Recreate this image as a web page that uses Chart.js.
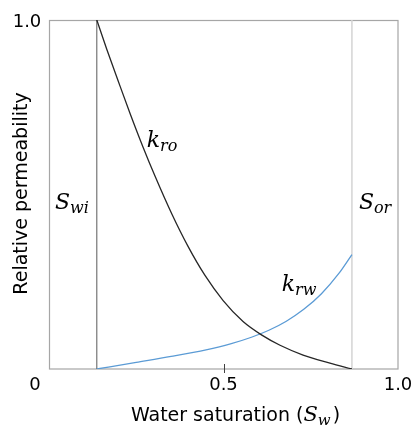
<!DOCTYPE html>
<html>
<head>
<meta charset="utf-8">
<script src="https://cdn.jsdelivr.net/npm/chart.js@4/dist/chart.umd.min.js"></script>
<style>
  html, body { margin: 0; padding: 0; background: #ffffff; }
  #c { display: block; }
</style>
</head>
<body>
<canvas id="c" width="417" height="430"></canvas>
<script>
// ---- Data ----
const SWI = 0.137;   // irreducible water saturation
const SOR = 0.868;   // 1 - residual oil saturation

const swKro = [0.137, 0.166, 0.198, 0.232, 0.269, 0.304, 0.352, 0.398, 0.447, 0.499, 0.556, 0.610, 0.662, 0.728, 0.805, 0.868];
const kro   = [1.000, 0.915, 0.826, 0.733, 0.637, 0.552, 0.444, 0.352, 0.268, 0.196, 0.136, 0.097, 0.068, 0.040, 0.017, 0.000];

const swKrw = [0.137, 0.250, 0.350, 0.450, 0.520, 0.580, 0.630, 0.680, 0.730, 0.780, 0.830, 0.868];
const krw   = [0.000, 0.019, 0.036, 0.055, 0.072, 0.091, 0.111, 0.137, 0.171, 0.215, 0.273, 0.328];

const xTickValues = [0.5, 1.0];
const xTickLabels = ['0.5', '1.0'];
const yTickValues = [1.0];
const yTickLabels = ['1.0'];
const originLabel = '0';

const xTitle = 'Water saturation (';
const xTitleMath = ['S', 'w'];
const yTitle = 'Relative permeability';

// curve / region annotations: [base, subscript, x, y] (data units)
const annotations = [
  ['k', 'ro', 0.280, 0.636],
  ['k', 'rw', 0.667, 0.223],
  ['S', 'wi', 0.017, 0.459],
  ['S', 'or', 0.888, 0.459]
];

const toPts = (xs, ys) => xs.map((x, i) => ({ x: x, y: ys[i] }));

const SANS = '"DejaVu Sans", "Open Sans", sans-serif';
const SERIF = '"DejaVu Serif", "Liberation Serif", serif';

function drawMath(ctx, base, sub, x, y, size, subSize, subDrop) {
  ctx.textAlign = 'left';
  ctx.textBaseline = 'alphabetic';
  ctx.font = 'italic ' + size + 'px ' + SERIF;
  ctx.fillText(base, x, y);
  const w = ctx.measureText(base).width;
  ctx.font = 'italic ' + subSize + 'px ' + SERIF;
  ctx.fillText(sub, x + w, y + subDrop);
  return w + ctx.measureText(sub).width;
}

const framePlugin = {
  id: 'frame',
  beforeDatasetsDraw(chart) {
    const ctx = chart.ctx, a = chart.chartArea;
    ctx.save();
    ctx.strokeStyle = '#a6a6a6';
    ctx.lineWidth = 1.2;
    ctx.strokeRect(a.left + 0.5, a.top + 0.5, a.right - a.left - 0.5, a.bottom - a.top - 0.5);
    ctx.restore();
  },
  afterDraw(chart) {
    const ctx = chart.ctx, a = chart.chartArea;
    const xs = chart.scales.x, ys = chart.scales.y;
    ctx.save();
    ctx.fillStyle = '#000000';
    ctx.strokeStyle = '#404040';
    ctx.lineWidth = 1;

    // x tick marks (inner ones)
    xTickValues.forEach(v => {
      if (v > 0 && v < 1) {
        const px = Math.round(xs.getPixelForValue(v)) + 0.5;
        ctx.beginPath();
        ctx.moveTo(px, a.bottom - 5);
        ctx.lineTo(px, a.bottom + 4);
        ctx.stroke();
      }
    });

    // tick labels
    ctx.font = '18px ' + SANS;
    ctx.textAlign = 'center';
    ctx.textBaseline = 'alphabetic';
    xTickValues.forEach((v, i) => {
      ctx.fillText(xTickLabels[i], xs.getPixelForValue(v), a.bottom + 21);
    });
    yTickValues.forEach((v, i) => {
      ctx.fillText(yTickLabels[i], a.left - 22, ys.getPixelForValue(v) + 7);
    });
    ctx.fillText(originLabel, a.left - 14, a.bottom + 21);

    // y title
    ctx.save();
    ctx.translate(22, (a.top + a.bottom) / 2 - 1);
    ctx.rotate(-Math.PI / 2);
    ctx.font = '19px ' + SANS;
    ctx.textAlign = 'center';
    ctx.textBaseline = 'middle';
    ctx.fillText(yTitle, 0, 0);
    ctx.restore();

    // x title: sans text + italic math + ")"
    const baseY = 421;
    ctx.font = '19px ' + SANS;
    const w1 = ctx.measureText(xTitle).width;
    ctx.font = 'italic 21px ' + SERIF;
    const wS = ctx.measureText(xTitleMath[0]).width;
    ctx.font = 'italic 15px ' + SERIF;
    const wSub = ctx.measureText(xTitleMath[1]).width;
    ctx.font = '19px ' + SANS;
    const wClose = ctx.measureText(')').width;
    const total = w1 + wS + wSub + wClose + 2;
    let tx = (a.left + a.right) / 2 + 12 - total / 2;
    ctx.textAlign = 'left';
    ctx.textBaseline = 'alphabetic';
    ctx.fillText(xTitle, tx, baseY);
    tx += w1;
    const mw = drawMath(ctx, xTitleMath[0], xTitleMath[1], tx, baseY, 21, 15, 4);
    tx += mw + 2;
    ctx.font = '19px ' + SANS;
    ctx.fillText(')', tx, baseY);

    // annotations
    annotations.forEach(([b, s, vx, vy]) => {
      drawMath(ctx, b, s, xs.getPixelForValue(vx), ys.getPixelForValue(vy), 22, 16, 4);
    });
    ctx.restore();
  }
};

new Chart(document.getElementById('c'), {
  type: 'scatter',
  data: {
    datasets: [
      {
        label: 'kro',
        data: toPts(swKro, kro),
        showLine: true,
        borderColor: '#262626',
        borderWidth: 1.3,
        pointRadius: 0,
        cubicInterpolationMode: 'monotone'
      },
      {
        label: 'krw',
        data: toPts(swKrw, krw),
        showLine: true,
        borderColor: '#5b9bd5',
        borderWidth: 1.3,
        pointRadius: 0,
        cubicInterpolationMode: 'monotone'
      },
      {
        label: 'Swi',
        data: [{ x: SWI, y: 0 }, { x: SWI, y: 1 }],
        showLine: true,
        borderColor: '#595959',
        borderWidth: 1,
        pointRadius: 0
      },
      {
        label: 'Sor',
        data: [{ x: SOR, y: 0 }, { x: SOR, y: 1 }],
        showLine: true,
        borderColor: '#d4d4d4',
        borderWidth: 1.5,
        pointRadius: 0
      }
    ]
  },
  options: {
    responsive: false,
    animation: false,
    devicePixelRatio: 1,
    layout: { padding: { left: 49, right: 19, top: 20, bottom: 61 } },
    plugins: { legend: { display: false }, tooltip: { enabled: false } },
    scales: {
      x: { type: 'linear', min: 0, max: 1, display: false },
      y: { type: 'linear', min: 0, max: 1, display: false }
    }
  },
  plugins: [framePlugin]
});
</script>
</body>
</html>
